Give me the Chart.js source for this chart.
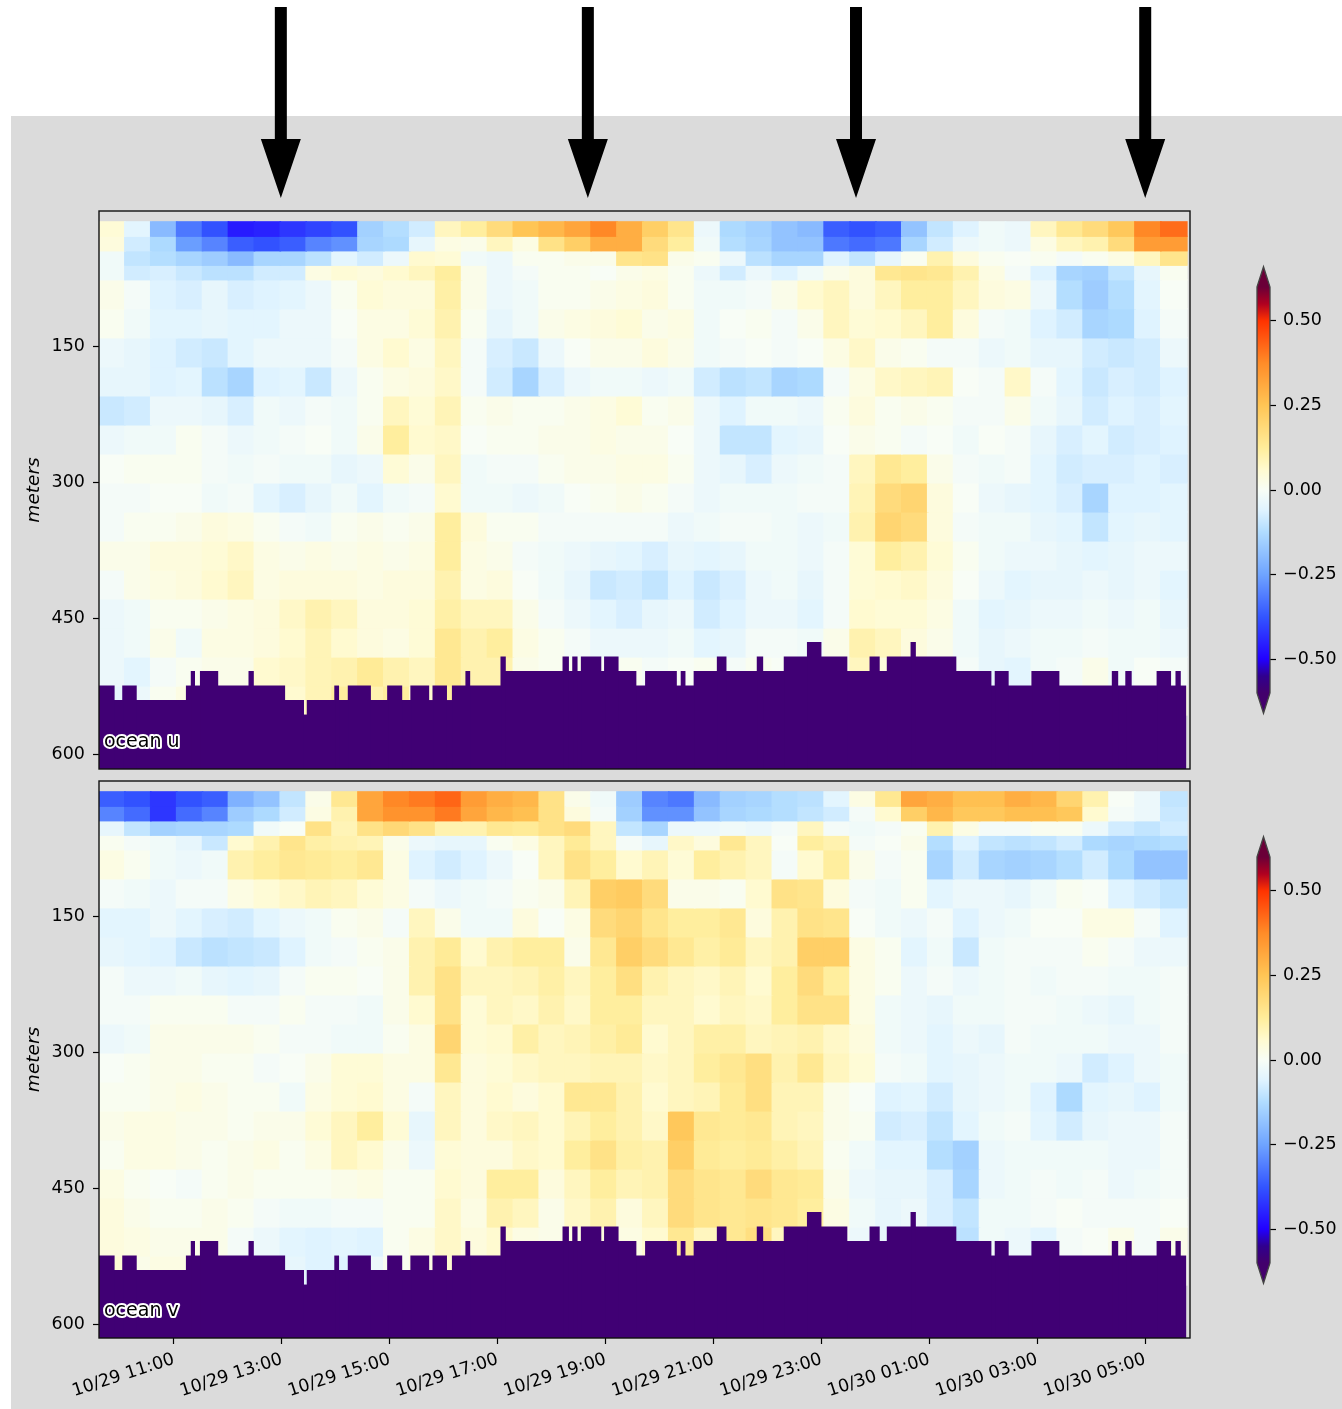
<!DOCTYPE html>
<html><head><meta charset="utf-8">
<script src="https://cdn.jsdelivr.net/npm/chart.js@4/dist/chart.umd.min.js"></script>
<style>
html,body{margin:0;padding:0;background:#fff;width:1342px;height:1409px;overflow:hidden}
#bg{position:absolute;left:11px;top:116px;width:1331px;height:1293px;background:#dbdbdb}
canvas{position:absolute;display:block}
</style></head><body>
<div id="bg"></div>
<canvas id="cu" style="left:0;top:0" width="1342" height="775"></canvas>
<canvas id="cv" style="left:0;top:775px" width="1342" height="634"></canvas>
<canvas id="bu" style="left:1240px;top:255px" width="102" height="470"></canvas>
<canvas id="bv" style="left:1240px;top:825px" width="102" height="470"></canvas>
<script>
// hours since 10/29 00:00
const cellHours=[9.85,10.33,10.81,11.29,11.77,12.25,12.73,13.21,13.69,14.17,14.65,15.13,15.61,16.09,16.57,17.05,17.53,18.01,18.49,18.97,19.45,19.93,20.41,20.89,21.37,21.85,22.33,22.81,23.29,23.77,24.25,24.73,25.21,25.69,26.17,26.65,27.13,27.61,28.09,28.57,29.05,29.53];
// depth bin edges in metres
const rowEdges=[13,29,45,61,77,109,141,173,205,237,269,301,333,365,397,429,461,493,525,557];
// velocity in hundredths of m/s
const uValues=[
[5,-5,-20,-32,-38,-46,-45,-42,-40,-38,-15,-12,-8,8,12,18,25,28,32,38,30,22,15,-3,-13,-15,-18,-20,-36,-38,-36,-18,-10,-6,-2,-3,8,14,18,24,38,42],
[4,-8,-13,-26,-30,-36,-38,-36,-30,-28,-14,-13,-4,3,2,8,3,16,22,30,30,18,12,-2,-12,-14,-18,-18,-32,-34,-32,-14,-8,-3,-2,-3,3,8,10,18,34,34],
[-2,-10,-12,-14,-16,-20,-14,-14,-11,-5,-8,-3,6,5,-2,-3,1,1,2,2,15,16,2,1,-3,-11,-14,-14,-6,-10,-4,1,10,4,1,0,1,-1,1,3,8,15],
[-2,-8,-7,-9,-11,-11,-8,-8,3,5,4,6,8,12,2,-3,-1,1,1,0,2,3,1,-3,-8,-3,-6,-2,2,4,14,15,14,10,3,-1,-6,-14,-15,-10,-4,1],
[2,-1,-6,-7,-4,-7,-6,-5,-3,1,5,4,4,11,2,-3,-2,1,1,2,3,4,1,-2,-2,-1,2,6,8,4,8,12,12,8,4,3,-3,-12,-16,-12,-5,0],
[1,-2,-5,-5,-4,-5,-5,-3,-3,0,3,3,5,10,1,-4,-2,2,3,4,5,2,3,-2,0,1,-1,2,8,5,6,8,12,4,-1,-2,-6,-8,-14,-13,-6,-1],
[-3,-4,-6,-8,-9,-5,-3,-3,-3,-1,3,6,3,8,-1,-7,-9,-3,0,2,2,4,2,-2,-1,0,-1,0,3,7,2,1,-1,-1,-3,-2,-4,-4,-8,-9,-8,-3],
[-4,-4,-6,-5,-11,-14,-6,-5,-9,-3,1,3,4,7,-1,-8,-14,-7,-3,-2,-2,-3,-2,-8,-11,-10,-14,-13,-1,3,7,8,9,0,-1,7,-1,-5,-9,-7,-8,-6],
[-9,-8,-3,-3,-4,-7,-2,-3,-1,-2,1,8,5,9,1,2,1,1,2,3,5,1,2,-3,-6,-2,-2,-3,1,4,1,2,1,-1,-1,2,-2,-4,-8,-6,-7,-5],
[-3,-2,-2,1,-1,-3,-2,-1,0,-2,2,12,6,7,0,1,1,2,2,3,2,2,0,-3,-10,-10,-5,-4,0,2,1,-1,0,-2,0,-1,-4,-7,-5,-8,-7,-6],
[0,1,1,1,-1,-2,-1,-2,-2,-4,-3,5,2,8,-2,-1,-1,1,2,2,3,3,1,-3,-4,-7,-3,-2,-1,8,14,12,2,-1,-2,-1,-5,-8,-7,-7,-6,-7],
[-1,-1,0,0,-2,-1,-5,-7,-4,-2,-5,-2,-1,6,-2,-2,-3,-2,0,1,2,1,-1,-3,-2,-2,-2,-1,-1,9,18,20,4,0,-3,-4,-5,-7,-14,-6,-6,-5],
[-1,1,1,2,4,3,1,-1,-2,1,2,1,2,12,4,1,1,-1,-1,-1,-1,-1,-3,-2,-1,-1,-2,-3,-2,10,20,18,4,-1,-2,-2,-4,-5,-10,-5,-4,-5],
[2,2,4,4,5,7,3,2,3,2,3,2,3,12,3,2,-1,-2,-3,-4,-5,-7,-4,-5,-4,-2,-2,-3,-1,5,12,10,5,1,-2,-3,-3,-4,-5,-4,-3,-3],
[-1,2,3,4,6,8,3,4,4,4,3,4,4,10,3,4,0,-2,-4,-9,-8,-10,-6,-9,-7,-3,-2,-4,-1,5,6,7,4,0,-3,-5,-4,-4,-3,-4,-3,-5],
[-3,-2,1,1,2,3,4,7,10,8,4,4,5,11,8,8,2,-1,-3,-5,-7,-4,-3,-8,-6,-3,-3,-5,-1,6,5,5,3,-2,-5,-4,-3,-3,-2,-3,-2,-4],
[-3,-2,2,-2,3,3,4,6,9,6,4,3,5,14,10,12,3,1,-1,-3,-3,-3,-2,-5,-4,-1,-1,-2,2,10,8,4,2,-2,-4,-3,-2,-2,-1,-2,-2,-3],
[-3,-5,-1,1,2,2,6,7,9,10,13,10,8,14,10,10,2,1,1,0,1,-1,0,1,-1,1,0,1,3,8,4,4,1,-1,-4,-5,-2,-1,2,-2,0,-1],
[-4,-3,1,3,3,2,3,6,9,12,10,12,6,12,8,12,3,1,1,1,1,1,1,1,1,1,1,1,5,8,3,3,1,-2,-3,-2,-2,0,3,1,2,3]
];
const vValues=[
[-36,-38,-42,-38,-36,-22,-18,-10,2,14,32,38,40,43,34,30,28,16,2,-2,-16,-30,-32,-20,-15,-14,-12,-11,-5,3,14,32,30,26,26,30,28,20,10,0,-3,-10],
[-30,-34,-42,-34,-30,-16,-13,-8,3,10,32,36,36,40,32,28,26,16,4,-1,-15,-28,-28,-18,-14,-13,-12,-10,-8,-1,6,22,28,24,24,26,26,24,6,-1,-3,-9],
[-4,-10,-15,-14,-14,-13,-2,0,16,9,16,19,16,10,10,14,13,16,18,8,-10,-14,-3,-3,-2,-3,-1,8,-1,-2,-1,1,10,3,-1,-1,1,1,-3,-8,-10,-8],
[1,-1,-2,-4,-9,6,10,15,11,10,9,2,-3,-4,-4,1,3,8,13,8,-1,-4,7,4,14,8,0,12,10,-1,0,2,-12,-6,-10,-11,-10,-8,-13,-14,-13,-12],
[3,1,-2,-3,-2,10,12,14,13,12,14,3,-6,-8,-6,-3,0,8,16,12,6,9,5,12,10,8,-1,6,12,2,-1,1,-14,-8,-14,-15,-14,-12,-8,-13,-18,-18],
[-1,-2,-3,-1,-1,3,5,7,9,8,5,3,-1,-3,-2,-1,1,2,9,22,23,18,2,2,1,6,16,15,4,-1,-2,1,-5,-3,-3,-4,-2,1,0,-6,-8,-10],
[-5,-5,-3,-5,-7,-8,-5,-3,-2,1,2,-1,8,2,-2,-2,4,0,3,18,20,15,12,12,14,4,10,16,15,0,-2,-3,-1,-6,-3,-2,0,0,3,3,-1,-6],
[-4,-5,-6,-9,-11,-10,-9,-6,-2,-1,1,2,10,13,6,10,12,12,2,14,22,18,14,11,13,8,10,22,22,3,1,-5,-2,-9,-2,-1,-1,-1,1,-1,-3,-3],
[-1,-3,-3,-2,-4,-5,-4,-1,1,1,0,2,10,16,8,8,9,11,8,12,17,10,8,7,9,6,12,18,12,3,1,-3,-1,-3,-2,-1,-2,-1,-1,-2,-2,-1],
[-1,-1,1,1,1,-1,-1,1,-1,-1,-2,2,6,16,5,8,7,10,7,12,12,8,8,6,8,7,12,16,16,3,-2,-3,-4,-2,-2,-1,-1,-2,-3,-4,-2,-1],
[-3,-2,2,2,2,2,1,-1,-1,-2,-2,1,3,20,5,6,11,8,9,11,13,6,8,11,11,8,9,10,7,4,-2,-3,-5,-3,-4,-1,-2,-2,-2,-3,-3,-1],
[0,1,2,2,1,1,-1,0,2,5,5,3,3,14,4,5,7,8,8,9,9,7,8,12,14,17,10,14,8,5,-1,-2,-5,-4,-3,-2,-2,-3,-8,-6,-3,-2],
[1,1,2,3,2,1,1,-2,3,5,6,3,-1,8,4,6,4,6,14,14,10,6,8,9,13,17,9,9,2,0,-6,-5,-8,-4,-3,-2,-6,-13,-5,-4,-6,-2],
[2,3,3,2,2,1,2,2,5,8,12,5,-4,8,4,7,8,6,9,12,10,7,24,14,13,14,9,8,2,1,-8,-7,-10,-5,-2,-1,-5,-8,-4,-3,-3,-1],
[1,3,3,2,1,2,3,1,3,8,6,2,-3,5,4,4,7,6,12,16,11,10,22,13,12,13,11,9,1,-2,-5,-5,-12,-15,-3,-2,-2,-2,-2,-3,-3,-1],
[3,1,0,-1,1,2,1,1,1,2,3,1,1,6,4,12,12,4,8,12,9,10,18,15,14,18,14,13,2,-3,-4,-4,-7,-14,-3,-2,-1,-2,-1,-3,-2,-1],
[4,2,1,1,2,1,-1,-2,-2,-1,-1,1,1,7,3,10,8,2,7,10,4,8,18,15,14,15,14,12,3,-2,-4,-3,-7,-10,-2,-2,-1,0,-1,-1,-1,0],
[4,3,2,2,2,-1,-3,-5,-6,-5,-6,1,3,7,4,6,3,2,3,4,3,6,14,8,14,17,8,6,0,-3,-4,-2,-7,-11,-2,-3,-5,-1,0,2,-1,2],
[5,2,3,3,3,-1,-2,-4,-6,-6,-3,1,3,6,4,3,1,1,1,1,1,1,1,1,1,1,1,1,1,1,1,1,1,1,1,1,-2,-1,-1,0,1,1]
];
// sea floor: hour edges of each run and the depth where the run's mask begins
const floorEdges=[9.61,9.89,10.05,10.30,11.23,11.32,11.38,11.49,11.81,12.39,12.47,13.05,13.40,13.47,13.98,14.05,14.23,14.64,14.96,15.22,15.39,15.72,15.80,16.05,16.16,16.41,16.48,17.06,17.14,18.21,18.31,18.39,18.47,18.55,18.91,18.98,19.23,19.56,19.74,20.31,20.40,20.47,20.64,21.07,21.23,21.81,21.91,22.31,22.74,22.99,23.47,23.90,24.07,24.22,24.66,24.74,25.49,26.14,26.22,26.46,26.90,27.40,28.39,28.49,28.64,28.74,29.22,29.47,29.57,29.65,29.75];
const floorDepths=[525,541,525,541,525,509,525,509,525,509,525,541,557,541,525,541,525,541,525,541,525,541,525,541,525,509,525,493,509,493,509,493,509,493,509,493,509,525,509,525,509,525,509,493,509,493,509,493,477,493,509,493,509,493,477,493,509,525,509,525,509,525,509,525,509,525,509,525,509,525];
const depthTicks=[150,300,450,600];
const hourTicks=[11,13,15,17,19,21,23,25,27,29];
const hourLabels=['10/29 11:00','10/29 13:00','10/29 15:00','10/29 17:00','10/29 19:00','10/29 21:00','10/29 23:00','10/30 01:00','10/30 03:00','10/30 05:00'];
const arrowHours=[12.98,18.67,23.64,29.0];
const barTicks=[0.5,0.25,0,-0.25,-0.5];
const barLabels=['0.50','0.25','0.00','\u22120.25','\u22120.50'];
const cmapStops=[-0.6,-0.55,-0.5,-0.375,-0.25,-0.125,-0.06,0,0.06,0.125,0.25,0.375,0.5,0.55,0.6];
const cmapColors=['#43006c','#30008f','#2200ff','#3355ff','#6fa4ff','#b0dcff','#dff3ff','#f8fdf6','#fffad0','#ffed9a','#ffc555','#ff8c28','#ff3300','#b00020','#6a0038'];

const FONT='"DejaVu Sans"', FS=17.5, MASK='#400074';
function rgb(h){return [1,3,5].map(i=>parseInt(h.substr(i,2),16));}
function cmap(v){
  if(v<=cmapStops[0])return cmapColors[0];
  for(let i=1;i<cmapStops.length;i++){
    if(v<=cmapStops[i]){
      const t=(v-cmapStops[i-1])/(cmapStops[i]-cmapStops[i-1]),a=rgb(cmapColors[i-1]),b=rgb(cmapColors[i]);
      return 'rgb('+a.map((c,k)=>Math.round(c+(b[k]-c)*t)).join(',')+')';
    }
  }
  return cmapColors[cmapColors.length-1];
}
const X_MIN=9.61,X_MAX=29.83,PANEL_W=1091,PX_H=PANEL_W/(X_MAX-X_MIN);

const framePlugin={id:'frame',afterDraw(c,_,o){
  const a=c.chartArea,x=c.ctx;
  x.save();x.strokeStyle='#111';x.lineWidth=1.4;x.strokeRect(a.left,a.top,a.width,a.height);
  if(o.label){
    x.font='19px '+FONT;x.textBaseline='middle';x.textAlign='left';x.lineJoin='round';
    x.strokeStyle='#fff';x.lineWidth=4;x.strokeText(o.label,a.left+5,a.bottom-27);
    x.fillStyle='#000';x.fillText(o.label,a.left+5,a.bottom-27);
  }
  if(o.arrows){
    x.fillStyle='#000';
    o.arrows.forEach(h=>{
      const p=c.scales.x.getPixelForValue(h);
      x.beginPath();x.moveTo(p-6,7);x.lineTo(p+6,7);x.lineTo(p+6,139);x.lineTo(p+20,139);x.lineTo(p,198);x.lineTo(p-20,139);x.lineTo(p-6,139);x.closePath();x.fill();
    });
  }
  x.restore();
}};

function panel(id,rows,yMax,top,bottom,canvasH,label,showX,arrows){
  const datasets=[];
  rows.forEach((row,r)=>{
    datasets.push({
      data:cellHours.map((h,i)=>({x:h,y:[rowEdges[r],rowEdges[r+1]]})),
      backgroundColor:row.map(v=>cmap(v/100)),
      barThickness:26.4,grouped:false,order:2,inflateAmount:0.6,borderWidth:0
    });
  });
  floorDepths.forEach((d,i)=>{
    datasets.push({
      data:[{x:(floorEdges[i]+floorEdges[i+1])/2,y:[d,640]}],
      backgroundColor:MASK,
      barThickness:(floorEdges[i+1]-floorEdges[i])*PX_H,grouped:false,order:1,inflateAmount:0.5,borderWidth:0
    });
  });
  const pad={left:0,right:1342-1190,top:top,bottom:showX?0:canvasH-bottom};
  const xH=showX?canvasH-bottom:0;
  new Chart(document.getElementById(id),{
    type:'bar',
    data:{datasets},
    plugins:[framePlugin],
    options:{
      responsive:false,animation:false,layout:{padding:pad},
      plugins:{legend:{display:false},tooltip:{enabled:false},frame:{label,arrows}},
      scales:{
        x:{type:'linear',min:X_MIN,max:X_MAX,offset:false,display:showX||!!arrows,
          afterBuildTicks(s){s.ticks=hourTicks.map(v=>({value:v}));},
          afterFit(s){s.height=xH;s.paddingLeft=0;s.paddingRight=0;},
          grid:{drawOnChartArea:false,drawTicks:showX,offset:false,tickLength:6,color:'#000',tickWidth:1.2},
          border:{display:false},
          ticks:{display:showX,autoSkip:false,minRotation:18,maxRotation:18,padding:5,color:'#000',font:{family:FONT,size:FS},
            callback(v){const i=hourTicks.indexOf(v);return i<0?'':hourLabels[i];}}
        },
        y:{type:'linear',reverse:true,min:1.1,max:yMax,
          afterBuildTicks(s){s.ticks=depthTicks.map(v=>({value:v}));},
          afterFit(s){s.width=99;s.paddingTop=0;s.paddingBottom=0;},
          grid:{drawOnChartArea:false,tickLength:6,color:'#000',tickWidth:1.2},
          border:{display:false},
          title:{display:true,text:'meters',font:{family:FONT,size:18.5,style:'italic'},color:'#000',padding:{top:23,bottom:0}},
          ticks:{padding:8,color:'#000',font:{family:FONT,size:FS},callback(v){return String(v);}}
        }
      }
    }
  });
}
panel('cu',uValues,616.5,211,769,775,'ocean u',false,arrowHours);
panel('cv',vValues,615.4,6,563,634,'ocean v',true,null);

const cbarPlugin={id:'cbar',afterDraw(c){
  const a=c.chartArea,x=c.ctx,y=c.scales.y,tipT=y.getPixelForValue(0.66),tipB=y.getPixelForValue(-0.66);
  const m=(a.left+a.right)/2;
  x.save();
  x.fillStyle=cmapColors[cmapColors.length-1];x.beginPath();x.moveTo(a.left,a.top);x.lineTo(m,tipT);x.lineTo(a.right,a.top);x.closePath();x.fill();
  x.fillStyle=cmapColors[0];x.beginPath();x.moveTo(a.left,a.bottom);x.lineTo(m,tipB);x.lineTo(a.right,a.bottom);x.closePath();x.fill();
  x.strokeStyle='#444';x.lineWidth=1.3;x.beginPath();x.moveTo(a.left,a.top);x.lineTo(m,tipT);x.lineTo(a.right,a.top);x.lineTo(a.right,a.bottom);x.lineTo(m,tipB);x.lineTo(a.left,a.bottom);x.closePath();x.stroke();
  x.restore();
}};
function colorbar(id){
  new Chart(document.getElementById(id),{
    type:'bar',
    data:{datasets:[{
      data:[{x:0,y:[cmapStops[0],cmapStops[cmapStops.length-1]]}],
      barPercentage:1,categoryPercentage:1,barThickness:13,borderWidth:0,inflateAmount:0,
      backgroundColor(ctx){
        const s=ctx.chart.scales.y,a=ctx.chart.chartArea;
        if(!a)return '#fff';
        const g=ctx.chart.ctx.createLinearGradient(0,s.getPixelForValue(cmapStops[0]),0,s.getPixelForValue(cmapStops[cmapStops.length-1]));
        cmapStops.forEach((v,i)=>g.addColorStop((v-cmapStops[0])/(cmapStops[cmapStops.length-1]-cmapStops[0]),cmapColors[i]));
        return g;
      }
    }]},
    plugins:[cbarPlugin],
    options:{
      responsive:false,animation:false,layout:{padding:{left:17,right:0,top:32,bottom:32}},
      plugins:{legend:{display:false},tooltip:{enabled:false}},
      scales:{
        x:{type:'linear',min:-1,max:1,offset:false,display:false},
        y:{type:'linear',position:'right',min:-0.6,max:0.6,
          afterBuildTicks(s){s.ticks=barTicks.map(v=>({value:v}));},
          afterFit(s){s.width=72;s.paddingTop=0;s.paddingBottom=0;},
          grid:{drawOnChartArea:false,tickLength:6,color:'#000',tickWidth:1.2},
          border:{display:false},
          ticks:{padding:7,color:'#000',font:{family:FONT,size:FS},
            callback(v){const i=barTicks.indexOf(v);return i<0?'':barLabels[i];}}
        }
      }
    }
  });
}
colorbar('bu');colorbar('bv');
</script>
</body></html>
